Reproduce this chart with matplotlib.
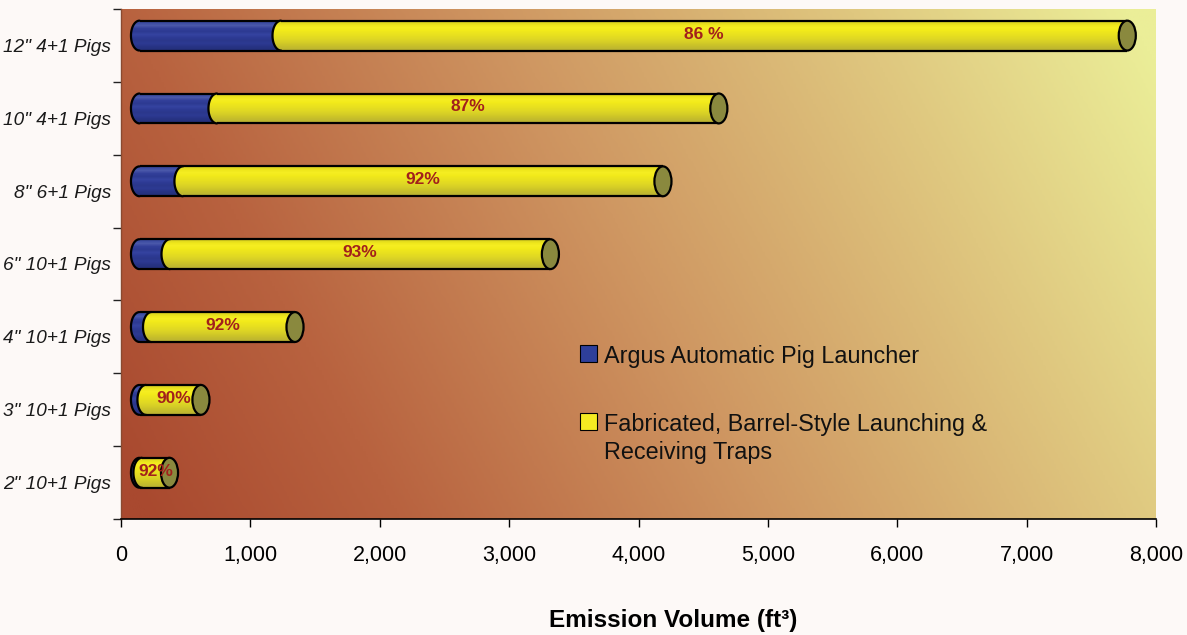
import numpy as np
import matplotlib
matplotlib.use('Agg')
import matplotlib.pyplot as plt
from matplotlib.patches import Ellipse, PathPatch, Rectangle
from matplotlib.path import Path
from matplotlib.colors import LinearSegmentedColormap

# ---------------- data ----------------
categories = ['12" 4+1 Pigs', '10" 4+1 Pigs', '8" 6+1 Pigs', '6" 10+1 Pigs',
              '4" 10+1 Pigs', '3" 10+1 Pigs', '2" 10+1 Pigs']
argus = [1094, 599, 336, 236, 93, 50, 19]
barrel = [6541, 3879, 3710, 2940, 1109, 425, 213]
pct_labels = ['86 %', '87%', '92%', '93%', '92%', '90%', '92%']
xtick_values = [0, 1000, 2000, 3000, 4000, 5000, 6000, 7000, 8000]
legend_labels = ['Argus Automatic Pig Launcher',
                 'Fabricated, Barrel-Style Launching &\nReceiving Traps']
xlabel_text = 'Emission Volume (ft³)'

# ---------------- style ----------------
W, H, DPI = 1187, 635, 100
FONT = ['Liberation Sans', 'DejaVu Sans']
plt.rcParams['font.family'] = FONT

DEPTH_X = 143      # 3-D offset of cylinders along x (data units)
DEPTH_Y = 0.135    # 3-D offset of cylinders along y (category units)
BAR_H = 0.41       # cylinder height (category units)
CAP_A = 66         # half-width of elliptical caps (data units)
EDGE_LW = 1.6

blue_rows = ['#3a4aa0', '#4a58aa', '#33409a', '#2d3a92', '#3543a0', '#2e3b95',
             '#2b378c', '#2d3a92', '#283485', '#25307c']
yellow_rows = ['#dcd420', '#efe71c', '#f6ee22', '#f2ea1a', '#ece41e', '#e6de20',
               '#e0d824', '#d8d026', '#cec628', '#c4bc2c', '#bcb432']
cap_color = '#8a893e'
label_color = '#a2201c'

fig = plt.figure(figsize=(W / DPI, H / DPI), dpi=DPI)
fig.patch.set_facecolor('#fdf9f7')
ax = fig.add_axes([121 / W, 1 - 519 / H, (1156 - 121) / W, (519 - 9) / H])

# background gradient of plot area
bg_cmap = LinearSegmentedColormap.from_list(
    'bg', [(0.0, '#a9492f'), (0.2, '#b8623f'), (0.5, '#cf9762'),
           (0.78, '#dfc77f'), (1.0, '#ebee98')])
gx, gy = np.meshgrid(np.linspace(0, 1, 400), np.linspace(1, 0, 200))
tt = np.clip(0.82 * gx + 0.22 * gy - 0.02, 0, 1)
ax.imshow(bg_cmap(tt), extent=[0, 1, 0, 1], transform=ax.transAxes,
          aspect='auto', zorder=0, interpolation='bilinear')


def rows_to_img(rows):
    arr = np.array([matplotlib.colors.to_rgb(c) for c in rows])
    return arr[:, None, :]


def segment(x_left, x_right, yc, rows, z):
    th = np.linspace(np.pi / 2, 3 * np.pi / 2, 60)
    arc_x = x_left + CAP_A * np.cos(th)
    arc_y = yc + BAR_H / 2 * np.sin(th)
    verts = [(x_right, yc + BAR_H / 2)] + list(zip(arc_x, arc_y)) + \
            [(x_right, yc - BAR_H / 2), (x_right, yc + BAR_H / 2)]
    clip = PathPatch(Path(verts, closed=True), facecolor='none',
                     edgecolor='none', transform=ax.transData)
    ax.add_patch(clip)
    im = ax.imshow(rows_to_img(rows),
                   extent=(x_left - CAP_A, x_right, yc - BAR_H / 2, yc + BAR_H / 2),
                   aspect='auto', origin='upper', zorder=z, interpolation='bilinear')
    im.set_clip_path(clip)
    ax.plot(arc_x, arc_y, color='black', lw=EDGE_LW, zorder=z + 0.5,
            solid_capstyle='round')
    ax.plot([x_left, x_right], [yc + BAR_H / 2] * 2, color='black', lw=EDGE_LW,
            zorder=z + 0.5, solid_capstyle='butt')
    ax.plot([x_left, x_right], [yc - BAR_H / 2] * 2, color='black', lw=EDGE_LW,
            zorder=z + 0.5, solid_capstyle='butt')


n = len(categories)
ypos = np.arange(n)[::-1]
for i in range(n):
    yc = ypos[i] + DEPTH_Y
    x0 = DEPTH_X
    xb = x0 + argus[i]
    xe = xb + barrel[i]
    z = 3 + i * 0.01
    segment(x0, xb, yc, blue_rows, z)
    segment(xb, xe, yc, yellow_rows, z + 1)
    ax.add_patch(Ellipse((xe, yc), 2 * CAP_A, BAR_H, facecolor=cap_color,
                         edgecolor='black', lw=EDGE_LW, zorder=z + 2))
    ax.text((xb + xe) / 2, yc + 0.02, pct_labels[i], ha='center', va='center',
            fontsize=12.5, fontweight='bold', color=label_color, zorder=z + 3)

ax.set_xlim(0, 8000)
ax.set_ylim(-0.5, n - 0.5)

ax.set_xticks(xtick_values)
ax.set_xticklabels([f'{v:,}' for v in xtick_values])
ax.tick_params(axis='x', direction='out', length=6, width=1, colors='black',
               labelsize=15.5, pad=13)
ax.set_yticks(np.arange(-0.5, n, 1.0))
ax.set_yticklabels([])
ax.set_yticks(ypos, minor=True)
ax.set_yticklabels(categories, minor=True, fontstyle='italic', fontsize=13.7,
                   color='#1a1a1a')
ax.tick_params(axis='y', which='major', direction='out', length=6, width=1,
               colors='#222222')
ax.tick_params(axis='y', which='minor', length=0, pad=7)

for s in ['top', 'right']:
    ax.spines[s].set_visible(False)
ax.spines['left'].set_color('#8a4a30')
ax.spines['left'].set_linewidth(1.0)
ax.spines['bottom'].set_color('black')
ax.spines['bottom'].set_linewidth(1.2)

ax.set_xlabel(xlabel_text, fontsize=17.5, fontweight='bold', color='black')
ax.xaxis.set_label_coords((673 - 121) / (1156 - 121), (519 - 620) / (519 - 9))
ax.xaxis.label.set_va('center')

# legend drawn manually
legend_colors = ['#2e3f9a', '#f5eb22']
sq_w, sq_h = 17 / W, 17 / H
for k, (lab, col) in enumerate(zip(legend_labels, legend_colors)):
    top_px = [345, 413][k]
    fig.add_artist(Rectangle((580 / W, 1 - (top_px + 17) / H), sq_w, sq_h,
                             facecolor=col, edgecolor='black', lw=0.8,
                             transform=fig.transFigure))
    fig.text(604 / W, 1 - (top_px + 0) / H, lab, ha='left', va='top',
             fontsize=16.8, color='#111111', linespacing=1.25)

fig.savefig('out.png', dpi=DPI, facecolor=fig.get_facecolor())
